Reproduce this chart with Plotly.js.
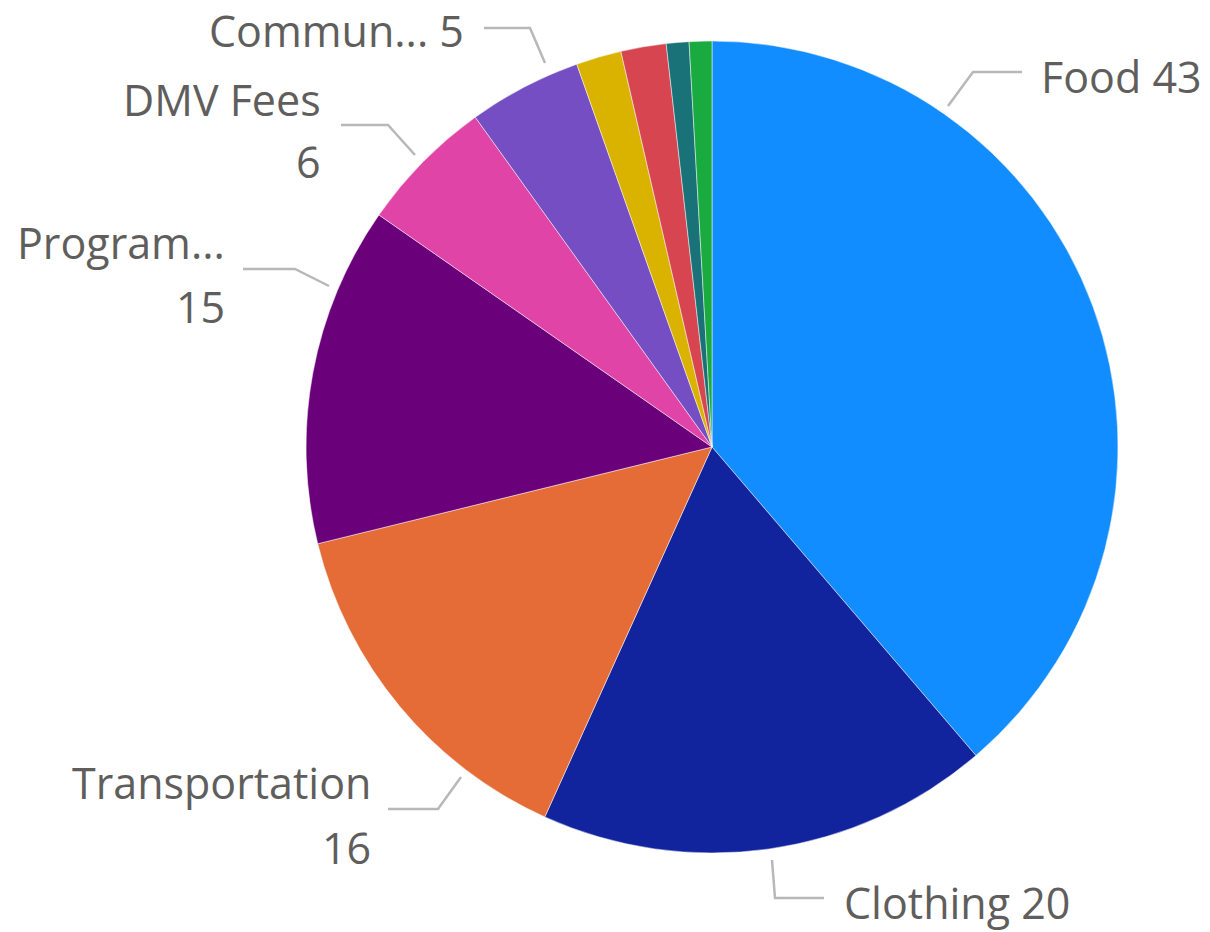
<!DOCTYPE html>
<html>
<head>
<meta charset="utf-8">
<script src="https://cdn.plot.ly/plotly-3.0.1.min.js"></script>
<style>html,body{margin:0;padding:0;background:#fff;}#chart{width:1210px;height:932px;}</style>
</head>
<body>
<div id="chart"></div>
<script>
// ---- data ----
const categories = ["Food", "Clothing", "Transportation", "Program...", "DMV Fees", "Commun...", "Category 7", "Category 8", "Category 9", "Category 10"];
const values = [43, 20, 16, 15, 6, 5, 2, 2, 1, 1];
const colors = ["#118DFF", "#12239E", "#E66C37", "#6B007B", "#E044A7", "#744EC2", "#D9B300", "#D64550", "#197278", "#1AAB40"];

// ---- label layout (pixel positions of outside labels and leader lines) ----
const W = 1210, H = 932;
const labelLayout = [
  {i: 0, lines: [{x: 1039, y: 77, anchor: "left", text: "both"}], leader: [[1022,72],[973,72],[948,106]]},
  {i: 1, lines: [{x: 842, y: 902, anchor: "left", text: "both"}], leader: [[824,898],[775,898],[772,860]]},
  {i: 2, lines: [{x: 373, y: 782, anchor: "right", text: "name"}, {x: 373, y: 847, anchor: "right", text: "value"}], leader: [[388,809],[438,809],[461,777]]},
  {i: 3, lines: [{x: 227, y: 242, anchor: "right", text: "name"}, {x: 227, y: 306, anchor: "right", text: "value"}], leader: [[243,269],[295,269],[329,286]]},
  {i: 4, lines: [{x: 323, y: 100, anchor: "right", text: "name"}, {x: 323, y: 161, anchor: "right", text: "value"}], leader: [[341,125],[388,125],[415,155]]},
  {i: 5, lines: [{x: 466, y: 31, anchor: "right", text: "both"}], leader: [[484,28],[530,28],[545,63]]}
];

const px = x => x / W;
const py = y => 1 - y / H;

const annotations = [];
const shapes = [];
labelLayout.forEach(l => {
  l.lines.forEach(ln => {
    let t = ln.text === "name" ? categories[l.i] : ln.text === "value" ? String(values[l.i]) : categories[l.i] + " " + values[l.i];
    annotations.push({
      xref: "paper", yref: "paper", x: px(ln.x), y: py(ln.y),
      xanchor: ln.anchor, yanchor: "middle", showarrow: false, text: t,
      font: {family: "Open Sans, Noto Sans, sans-serif", size: 43, color: "#605E5C"}
    });
  });
  const p = l.leader.map((pt, k) => (k === 0 ? "M" : "L") + px(pt[0]) + "," + py(pt[1])).join(" ");
  shapes.push({type: "path", xref: "paper", yref: "paper", path: p, line: {color: "#B8B8B8", width: 2.5}});
});

const trace = {
  type: "pie",
  labels: categories,
  values: values,
  sort: false,
  direction: "clockwise",
  rotation: 0,
  textinfo: "none",
  hoverinfo: "label+value",
  marker: {colors: colors, line: {color: "rgba(255,255,255,0.6)", width: 0.8}},
  domain: {x: [0.2529, 0.9240], y: [0.0848, 0.9560]},
  showlegend: false
};

Plotly.newPlot("chart", [trace], {
  width: W, height: H,
  margin: {l: 0, r: 0, t: 0, b: 0},
  paper_bgcolor: "#ffffff",
  showlegend: false,
  annotations: annotations,
  shapes: shapes
}, {displayModeBar: false, staticPlot: true});
</script>
</body>
</html>
